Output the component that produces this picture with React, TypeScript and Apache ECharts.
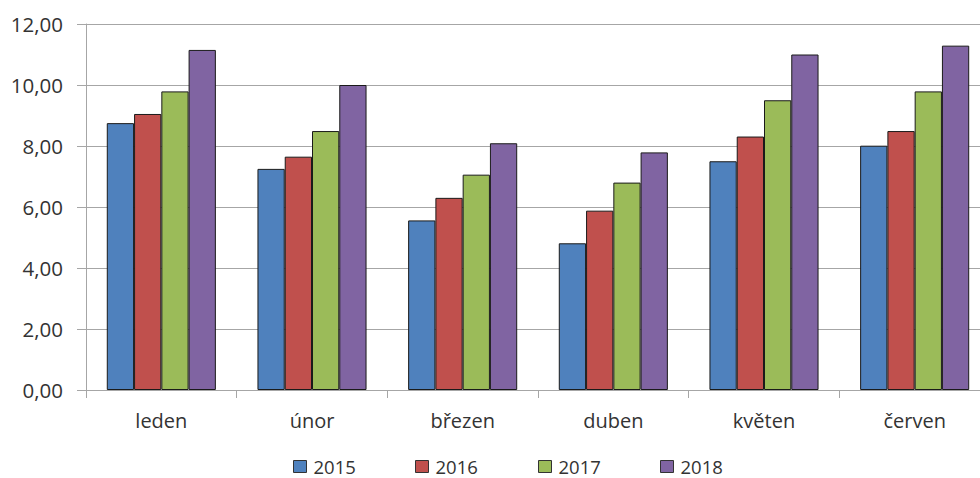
import React, { useEffect, useRef } from "react";
import * as echarts from "echarts";

const categories = ["leden", "únor", "březen", "duben", "květen", "červen"];
const seriesNames = ["2015", "2016", "2017", "2018"];
const values2015 = [8.75, 7.25, 5.56, 4.81, 7.5, 8.01];
const values2016 = [9.05, 7.65, 6.3, 5.88, 8.31, 8.49];
const values2017 = [9.79, 8.49, 7.06, 6.8, 9.5, 9.79];
const values2018 = [11.15, 10.0, 8.09, 7.79, 11.0, 11.29];
const colors = ["#4F81BD", "#C0504D", "#9BBB59", "#8064A2"];
const legendLefts = [293, 415, 538, 660];

const FONT = "'Open Sans', 'Noto Sans', sans-serif";

export default function App() {
  const ref = useRef<HTMLDivElement>(null);
  useEffect(() => {
    if (!ref.current) return;
    const chart = echarts.init(ref.current, null, { renderer: "svg" });
    const all = [values2015, values2016, values2017, values2018];
    chart.setOption({
      animation: false,
      color: colors,
      textStyle: { fontFamily: FONT },
      grid: { left: 86, top: 24, width: 904, height: 366, containLabel: false },
      legend: seriesNames.map((n, i) => ({
        data: [n],
        left: legendLefts[i],
        top: 457,
        padding: 0,
        itemWidth: 13,
        itemHeight: 12,
        itemGap: 0,
        icon: "rect",
        itemStyle: { borderColor: "#333", borderWidth: 1 },
        textStyle: { fontFamily: FONT, fontSize: 18.5, color: "#333", padding: [0, 0, 0, 2] },
      })),
      xAxis: {
        type: "category",
        data: categories,
        axisLine: { lineStyle: { color: "#A6A6A6", width: 1 } },
        axisTick: { show: true, length: 8, lineStyle: { color: "#A6A6A6" } },
        axisLabel: { fontFamily: FONT, fontSize: 20, color: "#333", margin: 20 },
      },
      yAxis: {
        type: "value",
        min: 0,
        max: 12,
        interval: 2,
        axisLine: { show: true, lineStyle: { color: "#A6A6A6", width: 1 } },
        axisTick: { show: true, length: 9, lineStyle: { color: "#A6A6A6" } },
        splitLine: { lineStyle: { color: "#A6A6A6", width: 1 } },
        axisLabel: {
          fontFamily: FONT,
          fontSize: 20.5,
          color: "#333",
          margin: 23,
          formatter: (v: number) => v.toFixed(2).replace(".", ","),
        },
      },
      series: seriesNames.map((n, i) => ({
        name: n,
        type: "bar",
        data: all[i],
        barGap: "0%",
        barCategoryGap: "27.6%",
        itemStyle: { color: colors[i], borderColor: "#1a1a1a", borderWidth: 1 },
      })),
    });
    return () => chart.dispose();
  }, []);
  return (
    <div
      style={{
        position: "fixed",
        left: 0,
        top: 0,
        width: 980,
        height: 478,
        overflow: "hidden",
        background: "#fff",
      }}
    >
      <div ref={ref} style={{ width: 1000, height: 478 }} />
    </div>
  );
}
